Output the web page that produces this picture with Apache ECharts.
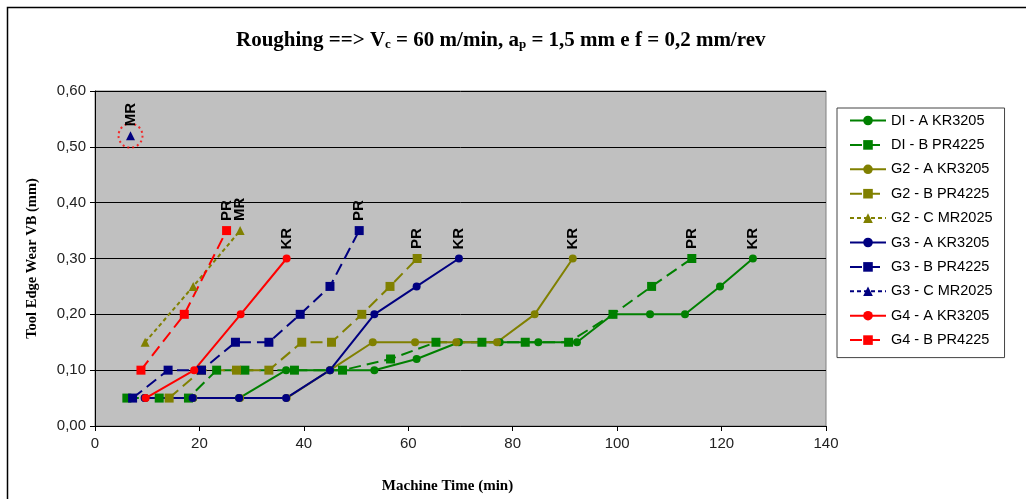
<!DOCTYPE html>
<html>
<head>
<meta charset="utf-8">
<script src="https://cdn.jsdelivr.net/npm/echarts@6/dist/echarts.min.js"></script>
<style>
  html, body { margin: 0; padding: 0; background: #fff; }
  #chart { width: 1026px; height: 499px; }
</style>
</head>
<body>
<div id="chart"></div>
<script>
// series names (legend order)
const seriesNames = [
  "DI - A KR3205", "DI - B PR4225",
  "G2 - A KR3205", "G2 - B PR4225", "G2 - C MR2025",
  "G3 - A KR3205", "G3 - B PR4225", "G3 - C MR2025",
  "G4 - A KR3205", "G4 - B PR4225"
];
// tags printed above the last point of each curve
const endTags = ["KR", "PR", "KR", "PR", "MR", "KR", "PR", "MR", "KR", "PR"];

// machine time (min)
const timeDIA = [9.6, 18.8, 27.6, 36.6, 45, 53.5, 61.6, 69.7, 77.5, 84.9, 92.3, 99.2, 106.3, 113, 119.7, 126];
const timeDIB = [6.1, 12.3, 17.9, 23.3, 28.7, 38.2, 47.4, 56.6, 65.3, 74.1, 82.4, 90.7, 99.2, 106.6, 114.3];
const timeG2A = [9.6, 18.8, 27.8, 36.7, 45, 53.2, 61.3, 69.2, 77.0, 84.2, 91.5];
const timeG2B = [14.2, 20.4, 27.1, 33.3, 39.6, 45.3, 51.1, 56.5, 61.7];
const timeG2C = [9.6, 18.8, 27.8];
const timeG3A = [9.5, 18.7, 27.6, 36.6, 45, 53.5, 61.6, 69.7];
const timeG3B = [7.2, 14.0, 20.4, 26.9, 33.3, 39.3, 45.0, 50.6];
const timeG3C = [6.8];
const timeG4A = [9.7, 19.0, 27.9, 36.7];
const timeG4B = [8.8, 17.1, 25.2];

// tool edge wear VB (mm)
const wearDIA = [0.05, 0.05, 0.05, 0.10, 0.10, 0.10, 0.12, 0.15, 0.15, 0.15, 0.15, 0.20, 0.20, 0.20, 0.25, 0.30];
const wearDIB = [0.05, 0.05, 0.05, 0.10, 0.10, 0.10, 0.10, 0.12, 0.15, 0.15, 0.15, 0.15, 0.20, 0.25, 0.30];
const wearG2A = [0.05, 0.05, 0.05, 0.05, 0.10, 0.15, 0.15, 0.15, 0.15, 0.20, 0.30];
const wearG2B = [0.05, 0.10, 0.10, 0.10, 0.15, 0.15, 0.20, 0.25, 0.30];
const wearG2C = [0.15, 0.25, 0.35];
const wearG3A = [0.05, 0.05, 0.05, 0.05, 0.10, 0.20, 0.25, 0.30];
const wearG3B = [0.05, 0.10, 0.10, 0.15, 0.15, 0.20, 0.25, 0.35];
const wearG3C = [0.52];
const wearG4A = [0.05, 0.10, 0.20, 0.30];
const wearG4B = [0.10, 0.20, 0.35];

const times = [timeDIA, timeDIB, timeG2A, timeG2B, timeG2C, timeG3A, timeG3B, timeG3C, timeG4A, timeG4B];
const wears = [wearDIA, wearDIB, wearG2A, wearG2B, wearG2C, wearG3A, wearG3B, wearG3C, wearG4A, wearG4B];

const green = "#008000", olive = "#808000", navy = "#000080", red = "#ff0000";
const colors = [green, green, olive, olive, olive, navy, navy, navy, red, red];
const kinds = ["A", "B", "A", "B", "C", "A", "B", "C", "A", "B"];

let chart = echarts.init(document.getElementById("chart"));

let series = seriesNames.map(function (name, i) {
  let pts = times[i].map(function (t, k) { return [t, wears[i][k]]; });
  let last = pts.length - 1;
  let data = pts.map(function (p, k) {
    if (k !== last) return p;
    return {
      value: p,
      label: {
        show: true,
        position: "top",
        distance: 5,
        rotate: 90,
        align: "left",
        verticalAlign: "middle",
        formatter: endTags[i],
        color: "#000",
        fontFamily: "Liberation Sans",
        fontWeight: "bold",
        fontSize: 15
      }
    };
  });
  let kind = kinds[i];
  let symbol = kind === "A" ? "circle" : (kind === "B" ? "rect" : "triangle");
  let dash = kind === "A" ? "solid" : (kind === "B" ? [12, 6] : [4, 3]);
  return {
    name: name,
    type: "line",
    data: data,
    symbol: symbol,
    symbolSize: kind === "A" ? 8 : 9,
    showAllSymbol: true,
    color: colors[i],
    itemStyle: { color: colors[i] },
    lineStyle: { color: colors[i], width: 2, type: dash },
    emphasis: { disabled: true },
    animation: false
  };
});

// red dotted ring around the lone G3 - C point
series.push({
  name: "ring",
  type: "scatter",
  data: [[timeG3C[0], wearG3C[0]]],
  symbol: "circle",
  symbolSize: 24,
  itemStyle: {
    color: "transparent",
    borderColor: red,
    borderWidth: 2,
    borderType: [2, 3]
  },
  z: 1,
  silent: true,
  animation: false
});

let option = {
  backgroundColor: "#fff",
  animation: false,
  graphic: [
    {
      type: "rect",
      shape: { x: 7.5, y: 7.5, width: 1040, height: 520 },
      style: { fill: "none", stroke: "#000", lineWidth: 1.5 },
      silent: true
    }
  ],
  title: {
    left: 231,
    top: 24,
    text: "{a|Roughing ==> V}{s|c}{a| = 60 m/min, a}{s|p}{a| = 1,5 mm e f = 0,2 mm/rev}",
    textStyle: {
      rich: {
        a: { fontFamily: "Liberation Serif", fontWeight: "bold", fontSize: 21, color: "#000", lineHeight: 24 },
        s: { fontFamily: "Liberation Serif", fontWeight: "bold", fontSize: 13, color: "#000", lineHeight: 24, padding: [7, 0, 0, 0] }
      }
    }
  },
  legend: {
    orient: "vertical",
    left: 837,
    top: 108,
    data: seriesNames,
    itemWidth: 36,
    itemHeight: 12,
    itemGap: 9.4,
    padding: [5, 12, 10, 12],
    borderColor: "#444",
    borderWidth: 1,
    backgroundColor: "#fff",
    textStyle: { fontFamily: "Liberation Sans", fontSize: 14.5, color: "#000" }
  },
  grid: {
    left: 95,
    right: 200,
    top: 91,
    bottom: 72,
    show: true,
    backgroundColor: "#c0c0c0",
    borderColor: "#808080",
    borderWidth: 1
  },
  xAxis: {
    type: "value",
    min: 0,
    max: 140,
    interval: 20,
    name: "Machine Time (min)",
    nameLocation: "middle",
    nameGap: 53,
    nameTextStyle: {
      fontFamily: "Liberation Serif", fontWeight: "bold", fontSize: 15, color: "#000",
      padding: [0, 26, 0, 0]
    },
    axisLine: { show: true, onZero: false, lineStyle: { color: "#000", width: 1 } },
    axisTick: { show: true, inside: false, length: 5, lineStyle: { color: "#000" } },
    axisLabel: { fontFamily: "Liberation Sans", fontSize: 15, color: "#222", margin: 10 },
    splitLine: { show: false }
  },
  yAxis: {
    type: "value",
    min: 0,
    max: 0.6,
    interval: 0.1,
    name: "Tool Edge Wear VB (mm)",
    nameLocation: "middle",
    nameGap: 55,
    nameTextStyle: { fontFamily: "Liberation Serif", fontWeight: "bold", fontSize: 14.5, color: "#000" },
    axisLine: { show: true, lineStyle: { color: "#000", width: 1 } },
    axisTick: { show: true, inside: false, length: 5, lineStyle: { color: "#000" } },
    axisLabel: {
      fontFamily: "Liberation Sans",
      fontSize: 15,
      color: "#222",
      margin: 9,
      formatter: function (v) { return v.toFixed(2).replace(".", ","); }
    },
    splitLine: { show: true, lineStyle: { color: "#000", width: 1 } }
  },
  series: series
};

chart.setOption(option);

window.addEventListener("resize", function () {
  chart.resize();
});
</script>
</body>
</html>
